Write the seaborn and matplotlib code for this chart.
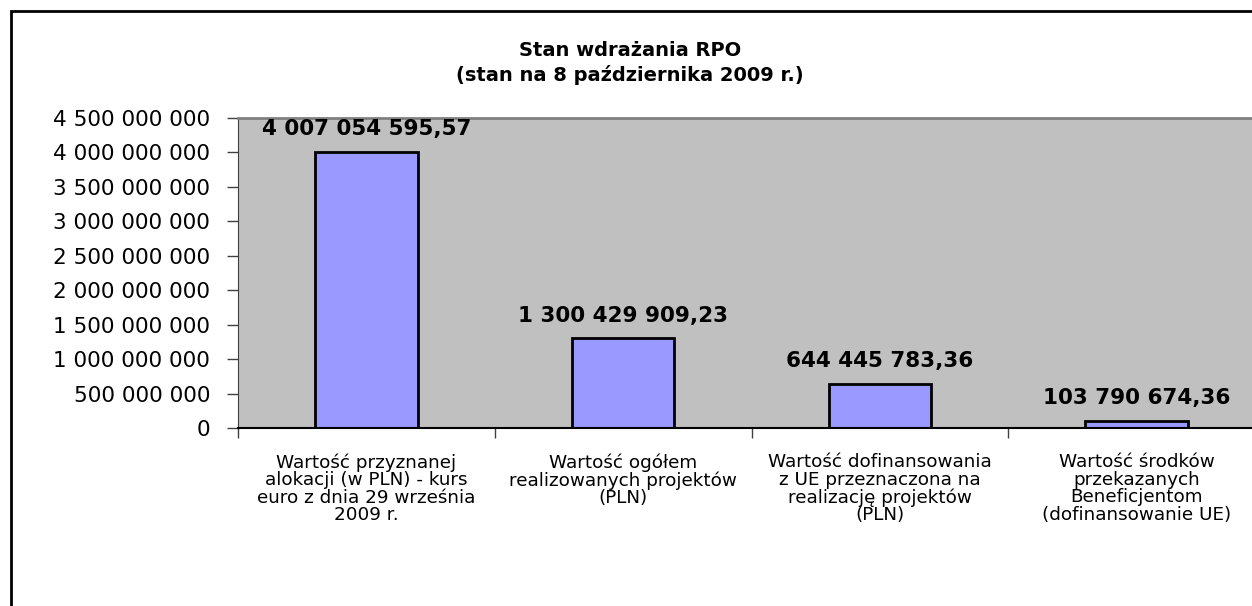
import matplotlib
matplotlib.use("Agg")
import matplotlib.pyplot as plt
import matplotlib.patches as patches
from matplotlib.ticker import FuncFormatter, MultipleLocator
import seaborn as sns
import pandas as pd

# data
categories = [
    "Wartość przyznanej\nalokacji (w PLN) - kurs\neuro z dnia 29 września\n2009 r.",
    "Wartość ogółem\nrealizowanych projektów\n(PLN)",
    "Wartość dofinansowania\nz UE przeznaczona na\nrealizację projektów\n(PLN)",
    "Wartość środków\nprzekazanych\nBeneficjentom\n(dofinansowanie UE)",
]
values = [4007054595.57, 1300429909.23, 644445783.36, 103790674.36]
title = "Stan wdrażania RPO\n(stan na 8 października 2009 r.)"


def pl_int(v, pos=None):
    return f"{int(round(v)):,}".replace(",", " ")


def pl_money(v):
    return f"{v:,.2f}".replace(",", " ").replace(".", ",")


df = pd.DataFrame({"kategoria": categories, "wartosc": values})

plt.rcParams["font.family"] = ["DejaVu Sans"]
fig = plt.figure(figsize=(12.52, 6.06), dpi=100)
ax = fig.add_axes([238 / 1252, 178 / 606, 1027 / 1252, 310 / 606])

sns.barplot(data=df, x="kategoria", y="wartosc", color="#9999FF",
            edgecolor="black", linewidth=2, width=0.4, saturation=1, ax=ax)

ax.set_facecolor("#C0C0C0")
ax.set_ylim(0, 4500000000)
ax.set_xlim(-0.5, 3.5)
ax.yaxis.set_major_locator(MultipleLocator(500000000))
ax.yaxis.set_major_formatter(FuncFormatter(pl_int))
ax.tick_params(axis="y", labelsize=15.5, length=8, width=1, color="#404040", pad=12)

# category boundaries as ticks, labels drawn below
ax.set_xticks([-0.5, 0.5, 1.5, 2.5, 3.5])
ax.set_xticklabels([])
ax.tick_params(axis="x", length=7, width=1, color="#404040")
for i, cat in enumerate(categories):
    ax.annotate(cat, xy=(i, 0), xycoords=("data", "axes fraction"),
                xytext=(0, -18), textcoords="offset points",
                ha="center", va="top", fontsize=13.2, linespacing=0.97)

ax.set_xlabel("")
ax.set_ylabel("")
ax.spines["top"].set_color("#808080")
ax.spines["top"].set_linewidth(2)
ax.spines["right"].set_visible(False)
ax.spines["left"].set_color("#404040")
ax.spines["bottom"].set_color("black")
ax.spines["bottom"].set_linewidth(1.5)

for i, v in enumerate(values):
    ax.annotate(pl_money(v), xy=(i, v), xytext=(0, 9), textcoords="offset points",
                ha="center", va="bottom", fontsize=15.5, fontweight="bold")

fig.text(0.503, 1 - 41 / 606, title, ha="center", va="top",
         fontsize=14, fontweight="bold", linespacing=1.3)

fig.patches.append(patches.Rectangle((11 / 1252, -0.2), 1.5, 1.2 - 11 / 606,
                                     transform=fig.transFigure, fill=False,
                                     edgecolor="black", linewidth=2))

fig.savefig("out.png", dpi=100)
